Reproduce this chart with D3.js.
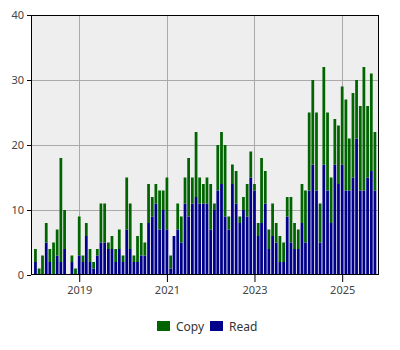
<!DOCTYPE html>
<html>
<head>
<meta charset="utf-8">
<script src="https://cdn.jsdelivr.net/npm/d3@7"></script>
<style>
  body { margin: 0; background: #fff; }
  #chart { width: 400px; height: 350px; }
  .axis text { font-family: "Noto Sans", sans-serif; font-size: 11px; fill: #444; }
  .legend text { font-family: "Noto Sans", sans-serif; font-size: 12px; fill: #333; }
</style>
</head>
<body>
<div id="chart"></div>
<script>
// monthly totals, Jan 2018 .. Oct 2025
const startMonth = "2018-01";
const totals = [
  4, 1, 3, 8, 4, 5, 7, 18, 10, 0, 3, 1,
  9, 3, 8, 4, 2, 4, 11, 11, 5, 6, 4, 7,
  3, 15, 11, 3, 6, 8, 5, 14, 12, 14, 13, 13,
  15, 3, 6, 11, 9, 15, 18, 15, 22, 15, 14, 15,
  14, 11, 20, 22, 20, 9, 17, 16, 9, 12, 14, 19,
  14, 8, 18, 16, 7, 11, 8, 6, 5, 12, 12, 8,
  7, 14, 13, 25, 30, 25, 11, 32, 25, 15, 24, 23,
  29, 27, 21, 28, 30, 26, 32, 26, 31, 22
];
const readValues = [
  2, 0, 0, 5, 2, 0, 3, 2, 4, 0, 2, 0,
  3, 2, 6, 2, 1, 3, 5, 5, 4, 4, 2, 4,
  2, 7, 4, 2, 2, 3, 3, 8, 9, 11, 7, 10,
  7, 1, 6, 7, 5, 11, 9, 11, 12, 11, 11, 11,
  7, 10, 13, 14, 9, 7, 14, 11, 8, 10, 9, 15,
  13, 6, 8, 11, 4, 6, 5, 2, 2, 9, 5, 4,
  4, 8, 5, 13, 17, 13, 5, 17, 13, 8, 17, 14,
  17, 13, 13, 15, 21, 13, 13, 15, 16, 13
];
const copyValues = totals.map((t, i) => t - readValues[i]);
const seriesNames = ["Copy", "Read"];
const seriesColors = ["#006400", "#00008b"];
const yTicks = [0, 10, 20, 30, 40];
const xTickYears = [2019, 2021, 2023, 2025];

const container = document.getElementById("chart");
const margin = { top: 15, right: 21, bottom: 75, left: 31 },
    width = 400 - margin.left - margin.right,
    height = 350 - margin.top - margin.bottom;

const parseMonth = d3.timeParse("%Y-%m");
const first = parseMonth(startMonth);
const months = totals.map((_, i) => d3.timeMonth.offset(first, i));
const data = months.map((m, i) => ({ date: m, Read: readValues[i], Copy: copyValues[i] }));

const svg = d3.select("#chart")
    .append("svg")
    .attr("width", 400)
    .attr("height", 350);

const g = svg.append("g")
    .attr("transform", "translate(" + margin.left + "," + margin.top + ")");

const x = d3.scaleTime()
    .domain([new Date(2017, 10, 25), new Date(2025, 10, 4)])
    .range([0, width]);

const y = d3.scaleLinear()
    .domain([0, 40])
    .range([height, 0]);

// plot background
g.append("rect")
    .attr("width", width)
    .attr("height", height)
    .attr("fill", "#eeeeee");

// grid
g.append("g")
    .selectAll("line")
    .data(yTicks.slice(1, -1))
    .enter()
    .append("line")
    .attr("x1", 0)
    .attr("x2", width)
    .attr("y1", d => y(d) + 0.5)
    .attr("y2", d => y(d) + 0.5)
    .attr("stroke", "#aaaaaa");

g.append("g")
    .selectAll("line")
    .data(xTickYears)
    .enter()
    .append("line")
    .attr("x1", d => Math.round(x(new Date(d, 0, 1))) + 0.5)
    .attr("x2", d => Math.round(x(new Date(d, 0, 1))) + 0.5)
    .attr("y1", 0)
    .attr("y2", height)
    .attr("stroke", "#aaaaaa");

// stacked bars: Read at the bottom, Copy on top
const stack = d3.stack().keys(["Read", "Copy"]);
const layers = stack(data);
const color = { Read: seriesColors[1], Copy: seriesColors[0] };

const step = x(months[1]) - x(months[0]);
const barWidth = step * 0.74;

g.append("g")
    .selectAll("g")
    .data(layers)
    .enter()
    .append("g")
    .attr("fill", d => color[d.key])
    .selectAll("rect")
    .data(d => d)
    .enter()
    .append("rect")
    .attr("x", d => x(d.data.date) - barWidth / 2)
    .attr("y", d => y(d[1]))
    .attr("width", barWidth)
    .attr("height", d => y(d[0]) - y(d[1]));

// border
g.append("rect")
    .attr("x", 0.5)
    .attr("y", 0.5)
    .attr("width", width - 1)
    .attr("height", height - 1)
    .attr("fill", "none")
    .attr("stroke", "#000");

// axes
g.append("g")
    .attr("class", "axis")
    .call(d3.axisLeft(y).tickValues(yTicks).tickSize(4).tickPadding(3))
    .call(a => a.select(".domain").remove())
    .call(a => a.selectAll("line").attr("stroke", "#000"));

g.append("g")
    .attr("class", "axis")
    .attr("transform", "translate(0," + height + ")")
    .call(d3.axisBottom(x)
        .tickValues(xTickYears.map(yr => new Date(yr, 0, 1)))
        .tickFormat(d3.timeFormat("%Y"))
        .tickSize(7)
        .tickPadding(4))
    .call(a => a.select(".domain").remove())
    .call(a => a.selectAll("line").attr("stroke", "#000"));

// legend
const legend = svg.append("g")
    .attr("class", "legend")
    .attr("transform", "translate(157,321)");

const items = legend.selectAll("g")
    .data(seriesNames)
    .enter()
    .append("g")
    .attr("transform", (d, i) => "translate(" + (i * 53) + ",0)");

items.append("rect")
    .attr("width", 13)
    .attr("height", 10)
    .attr("fill", (d, i) => seriesColors[i]);

items.append("text")
    .attr("x", 19)
    .attr("y", 9.5)
    .text(d => d);
</script>
</body>
</html>
